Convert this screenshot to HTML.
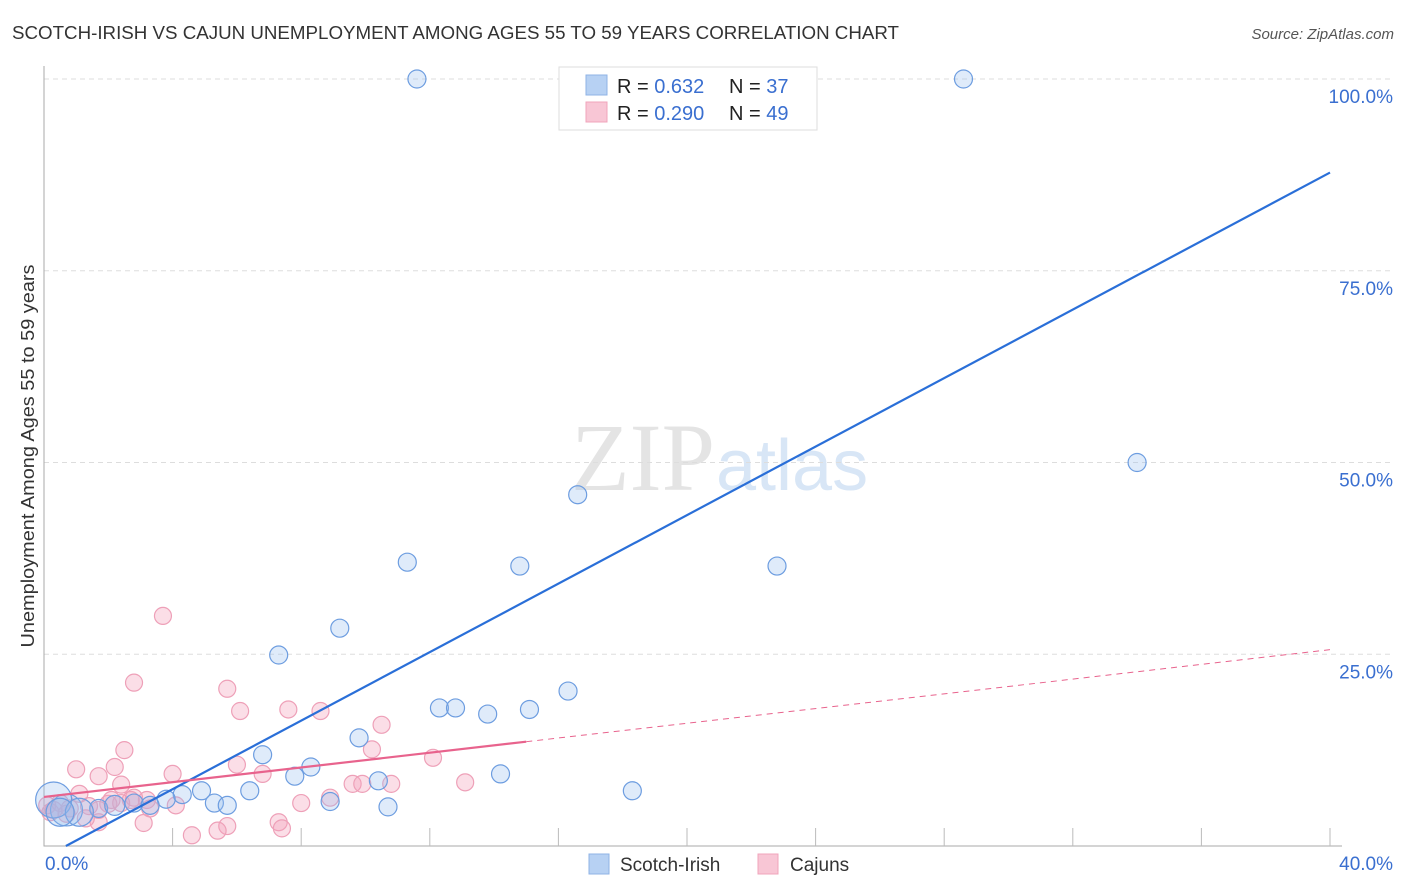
<!DOCTYPE html>
<html><head><meta charset="utf-8"><style>
body{margin:0;background:#fff;font-family:"Liberation Sans",sans-serif;}
svg{display:block}
</style></head><body>
<svg id="chart" width="1406" height="892" xmlns="http://www.w3.org/2000/svg">
<text x="12" y="39" font-size="18" fill="#333" textLength="887" lengthAdjust="spacingAndGlyphs">SCOTCH-IRISH VS CAJUN UNEMPLOYMENT AMONG AGES 55 TO 59 YEARS CORRELATION CHART</text>
<text x="1394" y="39" font-size="15" fill="#555" font-style="italic" text-anchor="end">Source: ZipAtlas.com</text>
<text x="715" y="490" font-size="96" fill="#e4e4e4" text-anchor="end" font-family="Liberation Serif,serif">ZIP</text>
<text x="716" y="490" font-size="72" fill="#d8e6f6">atlas</text>
<g id="grid"></g>
<g id="axes"></g>
<g id="pts"></g>
<g id="lines"></g>
<text x="34" y="456" font-size="18" fill="#333" text-anchor="middle" textLength="383" lengthAdjust="spacingAndGlyphs" transform="rotate(-90 34 456)">Unemployment Among Ages 55 to 59 years</text>
<g>
<rect x="559" y="67" width="258" height="63" fill="#fff" stroke="#ddd"/>
<rect x="586" y="75" width="21" height="20" fill="#b7d1f3" stroke="#8fb3e6"/>
<rect x="586" y="102" width="21" height="20" fill="#f8c6d5" stroke="#f0a4bb"/>
<text x="617" y="93" font-size="20" fill="#222">R = <tspan fill="#3a6fd0">0.632</tspan></text>
<text x="729" y="93" font-size="20" fill="#222">N = <tspan fill="#3a6fd0">37</tspan></text>
<text x="617" y="120" font-size="20" fill="#222">R = <tspan fill="#3a6fd0">0.290</tspan></text>
<text x="729" y="120" font-size="20" fill="#222">N = <tspan fill="#3a6fd0">49</tspan></text>
</g>
<g>
<rect x="589" y="854" width="20" height="20" fill="#b7d1f3" stroke="#8fb3e6"/>
<text x="620" y="871" font-size="19" fill="#333">Scotch-Irish</text>
<rect x="758" y="854" width="20" height="20" fill="#f8c6d5" stroke="#f0a4bb"/>
<text x="790" y="871" font-size="19" fill="#333">Cajuns</text>
</g>
</svg>
<script>
const yTicks=[25,50,75,100];
const yTickLabels=["25.0%","50.0%","75.0%","100.0%"];
const xTickLabels=["0.0%","40.0%"];
const blueX=[11.6,28.6,34.0,16.6,11.3,14.8,22.8,9.2,7.3,16.3,12.3,12.8,13.8,15.1,9.8,6.8,8.3,7.8,14.2,10.4,6.4,18.3,4.9,4.3,5.3,5.7,8.9,10.7,3.8,2.8,3.3,1.7,0.7,0.3,1.1,2.2,0.5];
const blueY=[100,100,50,45.8,37,36.5,36.5,28.4,24.9,20.2,18,18,17.2,17.8,14.1,11.9,10.3,9.1,9.4,8.5,7.2,7.2,7.2,6.7,5.6,5.3,5.8,5.1,6.1,5.6,5.3,4.9,4.7,6,4.4,5.3,4.4];
const blueR=[9,9,9,9,9,9,9,9,9,9,9,9,9,9,9,9,9,9,9,9,9,9,9,9,9,9,9,9,9,9,9,9,16,18,14,10,14];
const pinkX=[3.7,2.8,5.7,6.1,7.6,8.6,10.5,10.2,2.5,12.1,1,2.2,6,6.8,4,1.7,2.4,9.6,9.9,10.8,13.1,8.9,8,3.2,2.8,2,1.1,3.1,5.7,5.4,4.6,7.3,7.4,1.7,1.3,4.1,3.3,2.4,0.3,0.1,0.5,0.8,1.4,2.1,2.7,0.2,0.7,1.7];
const pinkY=[30,21.3,20.5,17.6,17.8,17.6,15.8,12.6,12.5,11.5,10,10.3,10.6,9.4,9.4,9.1,8,8.1,8.1,8.1,8.3,6.3,5.6,6,6.3,5.5,6.8,3,2.6,2,1.4,3.1,2.3,3.1,3.6,5.3,4.9,5.6,4.7,5.3,5.6,4.9,5.2,6,6,4.4,4.2,4.7];
const blueA=-1.52, blueB=2.233, pinkA=6.4, pinkB=0.48;
const X0=44,X1=1330,Y0=846,Y100=79;
const sx=v=>X0+(X1-X0)*v/40, sy=v=>Y0-(Y0-Y100)*v/100;
const NS="http://www.w3.org/2000/svg";
function mk(p,t,a){const e=document.createElementNS(NS,t);for(const k in a)e.setAttribute(k,a[k]);p.appendChild(e);return e;}
const grid=document.getElementById('grid'),axes=document.getElementById('axes'),pts=document.getElementById('pts'),lines=document.getElementById('lines');
yTicks.forEach((t,i)=>{
 const l=mk(grid,'line',{x1:X0,x2:1392,y1:sy(t),y2:sy(t),stroke:'#ddd','stroke-dasharray':'5,4'});
 
 
 const tx=mk(axes,'text',{x:1393,y:sy(t)+24,'font-size':19,fill:'#3a6fd0','text-anchor':'end'});
 tx.textContent=yTickLabels[i];
 
 
});
const ax=mk(axes,'path',{d:`M${X0},66V${Y0}H${X1+12}`,stroke:'#aaa',fill:'none'});


for(let i=1;i<=10;i++){const t=mk(axes,'line',{x1:sx(i*4),x2:sx(i*4),y1:Y0,y2:Y0-18,stroke:'#bbb'});
 
 }
[[0,'start',45],[40,'end',1393]].forEach((d,i)=>{const t=mk(axes,'text',{x:d[2],y:870,'font-size':19,fill:'#3a6fd0','text-anchor':d[1]});t.textContent=xTickLabels[i];
 
 });
pinkX.forEach((x,i)=>{const c=mk(pts,'circle',{cx:sx(x),cy:sy(pinkY[i]),r:8.5,fill:'rgba(244,160,185,0.35)',stroke:'#eea0b8','stroke-width':1.2});
 
 });
blueX.forEach((x,i)=>{const c=mk(pts,'circle',{cx:sx(x),cy:sy(blueY[i]),r:blueR[i],fill:'rgba(150,190,240,0.3)',stroke:'#6d9de0','stroke-width':1.2});
 
 });
const bx0=-blueA/blueB;
const bl=mk(lines,'line',{x1:sx(bx0),y1:sy(0),x2:sx(40),y2:sy(blueA+blueB*40),stroke:'#2a6fd8','stroke-width':2.2});


const pl=mk(lines,'line',{x1:sx(0),y1:sy(pinkA),x2:sx(15),y2:sy(pinkA+pinkB*15),stroke:'#e8638d','stroke-width':2.2});


const pd=mk(lines,'line',{x1:sx(15),y1:sy(pinkA+pinkB*15),x2:sx(40),y2:sy(pinkA+pinkB*40),stroke:'#e8638d','stroke-width':1,'stroke-dasharray':'6,5'});


</script>
</body></html>
